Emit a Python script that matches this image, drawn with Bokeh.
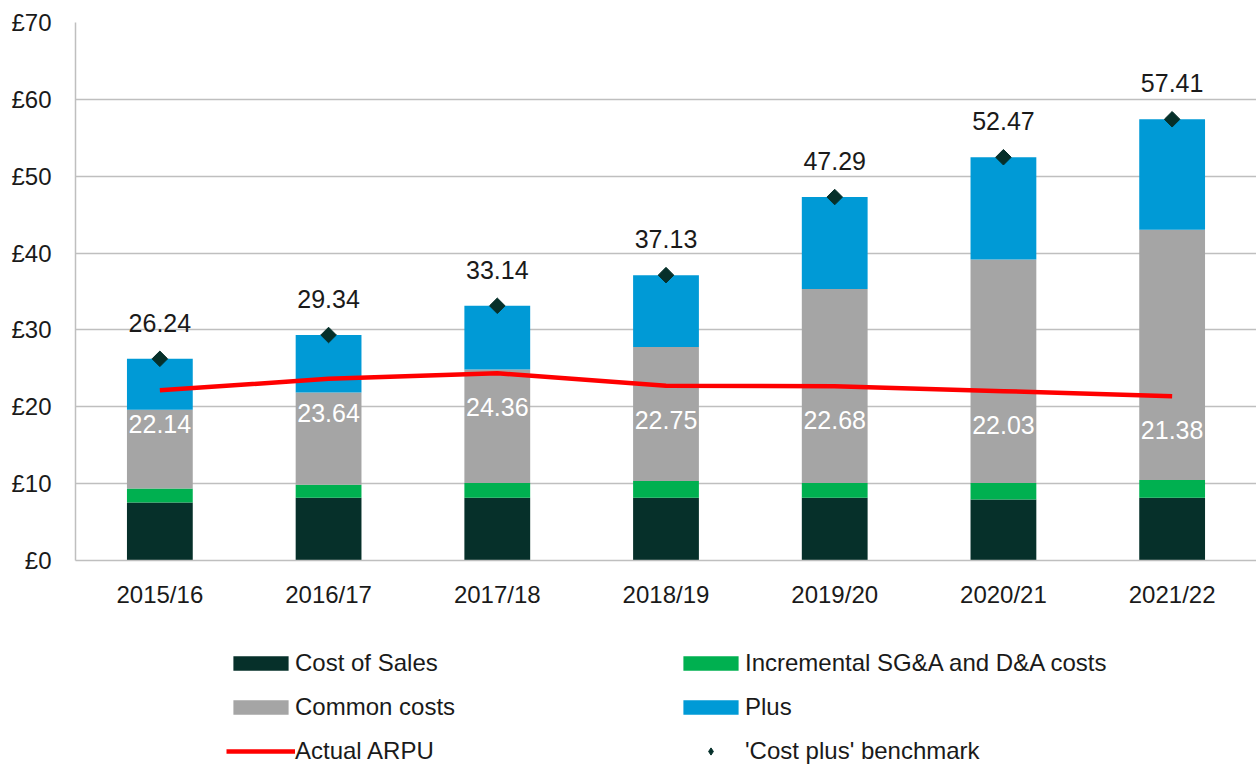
import math
from bokeh.plotting import figure
from bokeh.layouts import column
from bokeh.models import ColumnDataSource, Legend, LegendItem, PrintfTickFormatter, FixedTicker, Range1d
from bokeh.core.properties import value
from bokeh.embed import file_html
from bokeh.resources import INLINE

years = ["2015/16", "2016/17", "2017/18", "2018/19", "2019/20", "2020/21", "2021/22"]
cost_of_sales = [7.55, 8.17, 8.17, 8.17, 8.17, 7.93, 8.17]
incremental = [1.82, 1.69, 1.92, 2.17, 1.92, 2.16, 2.31]
common_costs = [10.24, 12.00, 14.76, 17.45, 25.24, 29.08, 32.55]
plus = [6.63, 7.48, 8.29, 9.34, 11.96, 13.30, 14.38]
benchmark = [26.24, 29.34, 33.14, 37.13, 47.29, 52.47, 57.41]
arpu = [22.14, 23.64, 24.36, 22.75, 22.68, 22.03, 21.38]
y_ticks = [0, 10, 20, 30, 40, 50, 60, 70]
series_labels = ["Cost of Sales", "Incremental SG&A and D&A costs", "Common costs", "Plus",
                 "Actual ARPU", "'Cost plus' benchmark"]

FONT = "Liberation Sans"
C_SALES = "#06302A"
C_INC = "#00B050"
C_COMMON = "#A5A5A5"
C_PLUS = "#009AD6"
C_RED = "#FF0000"
BAR_COLORS = [C_SALES, C_INC, C_COMMON, C_PLUS]

src = ColumnDataSource(dict(
    year=years, sales=cost_of_sales, inc=incremental, common=common_costs, plus=plus,
    bench=benchmark, arpu=arpu,
    bench_lbl=[f"{v:.2f}" for v in benchmark],
    arpu_lbl=[f"{v:.2f}" for v in arpu],
))

p = figure(x_range=years, y_range=Range1d(0, 70), width=1256, height=610,
           output_backend="svg", toolbar_location=None,
           min_border_left=75, min_border_right=0, min_border_top=22, min_border_bottom=50)
p.outline_line_color = None

p.vbar_stack(["sales", "inc", "common", "plus"], x="year", width=0.39, source=src,
             color=BAR_COLORS, line_color=None)
p.line(x="year", y="arpu", source=src, line_color=C_RED, line_width=4.5)
p.scatter(x="year", y="bench", source=src, marker="square", angle=math.pi / 4,
          size=11, fill_color=C_SALES, line_color=C_SALES)

p.text(x="year", y="bench", text="bench_lbl", source=src, y_offset=-36,
       text_align="center", text_baseline="middle", text_font=value(FONT),
       text_font_size="25px", text_color="#1a1a1a")
p.text(x="year", y="arpu", text="arpu_lbl", source=src, y_offset=34,
       text_align="center", text_baseline="middle", text_font=value(FONT),
       text_font_size="25px", text_color="white")

p.yaxis.ticker = FixedTicker(ticks=y_ticks)
p.yaxis.formatter = PrintfTickFormatter(format="£%d")
p.ygrid.ticker = FixedTicker(ticks=y_ticks)
p.ygrid.grid_line_color = "#BFBFBF"
p.ygrid.grid_line_width = 1.5
p.xgrid.grid_line_color = None

for ax in (p.xaxis, p.yaxis):
    ax.axis_line_color = "#BFBFBF"
    ax.axis_line_width = 1.5
    ax.major_tick_line_color = None
    ax.minor_tick_line_color = None
    ax.major_label_text_font = FONT
    ax.major_label_text_font_size = "24px"
    ax.major_label_text_color = "#1a1a1a"
p.yaxis.major_label_standoff = 18
p.xaxis.major_label_standoff = 14

# Legend figure (below the chart)
lg = figure(width=1256, height=155, output_backend="svg", toolbar_location=None,
            x_axis_type=None, y_axis_type=None, x_range=Range1d(0, 1), y_range=Range1d(0, 1),
            min_border_left=75, min_border_right=0, min_border_top=39, min_border_bottom=0)
lg.outline_line_color = None
lg.xgrid.grid_line_color = None
lg.ygrid.grid_line_color = None
offscreen = ColumnDataSource(dict(x=[-10.0], y=[-10.0]))
rends = [lg.vbar(x="x", top="y", width=0.1, source=offscreen, color=c, line_color=None)
         for c in BAR_COLORS]
rends.append(lg.line(x="x", y="y", source=offscreen, line_color=C_RED, line_width=4.5))
rends.append(lg.scatter(x="x", y="y", source=offscreen, marker="diamond", size=17,
                        fill_color=C_SALES, line_color=C_SALES))

legend = Legend(items=[LegendItem(label=l, renderers=[r]) for l, r in zip(series_labels, rends)],
                location=(151, 0), orientation="horizontal", ncols=2)
legend.border_line_color = None
legend.background_fill_alpha = 0
legend.label_text_font = FONT
legend.label_text_font_size = "24px"
legend.label_text_color = "#1a1a1a"
legend.glyph_width = 69
legend.glyph_height = 18
legend.label_standoff = 0
legend.spacing = 16
legend.label_width = 365
legend.padding = 0
legend.margin = 0
lg.add_layout(legend, "center")

open("out.html", "w").write(file_html(column(p, lg, spacing=0), INLINE))
